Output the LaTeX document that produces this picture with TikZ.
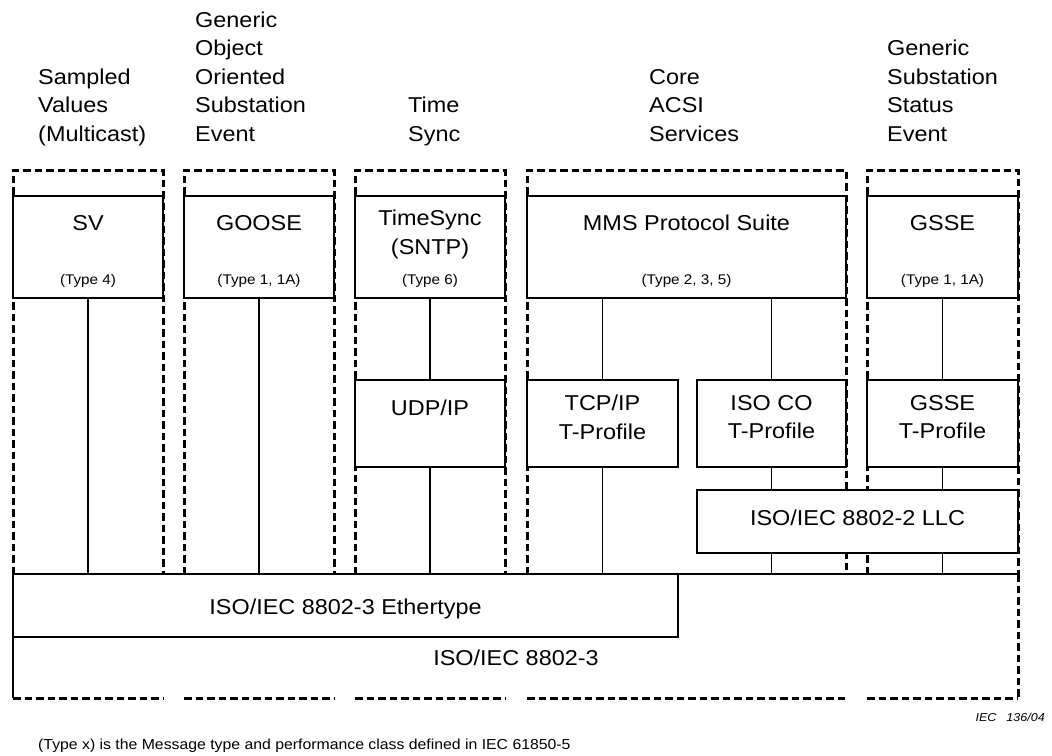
\documentclass[tikz,border=0pt]{standalone}
\usepackage{fontspec}
\setmainfont{Liberation Sans}[FakeStretch=1.09]
\usetikzlibrary{positioning}

\begin{document}
\begin{tikzpicture}[x=1pt, y=-1pt,
    hdr/.style={font=\fontsize{21.5}{28.5}\selectfont, align=left, inner sep=0pt,
                anchor=south west, execute at end node=\strut},
    txt/.style={font=\fontsize{21.5}{28.5}\selectfont, align=center, inner sep=0pt, anchor=base},
    tall/.style={txt, anchor=north, execute at begin node=\strut},
    typ/.style={font=\fontsize{14}{17}\selectfont, inner sep=0pt, anchor=base},
    blk/.style={draw, fill=white, line width=1.7pt, inner sep=0pt, outer sep=0pt},
    col/.style={line width=3pt, dash pattern=on 7.5pt off 4pt},
    link/.style={line width=1.7pt}
]
\useasboundingbox (0,0) rectangle (1052,755);

% headings over the columns
\node[hdr] (sv-h) at (38,150) {Sampled\\Values\\(Multicast)};
\node[hdr] (goose-h) at (195,150) {Generic\\Object\\Oriented\\Substation\\Event};
\node[hdr] (tsync-h) at (408,150) {Time\\Sync};
\node[hdr] (mms-h) at (649,150) {Core\\ACSI\\Services};
\node[hdr] (gsse-h) at (887,150) {Generic\\Substation\\Status\\Event};

% 8802-3 layer (open at bottom and right)
\node[fill=white, inner sep=0pt, minimum width=1005pt, minimum height=124pt] (base) at (515.5,636) {};

% dashed columns
\foreach \xa/\xb in {13/163, 184/334, 355/505, 527/846, 867/1018} {
    \draw[col] (\xa,574) |- (\xb,170) -- (\xb,574);
    \draw[col] (\xa,698) -- (\xb,698);
}
\draw[col] (1018,574) -- (1018,698);
\draw[link] (base.south west) -- (base.north west) -- (base.north east);

% service blocks
\node[blk, minimum width=150pt, minimum height=102pt] (sv) at (88,247) {};
\node[blk, minimum width=150pt, minimum height=102pt] (goose) at (259,247) {};
\node[blk, minimum width=150pt, minimum height=102pt] (tsync) at (430,247) {};
\node[blk, minimum width=319pt, minimum height=102pt] (mms) at (686.5,247) {};
\node[blk, minimum width=151pt, minimum height=102pt] (gsse) at (942.5,247) {};

% transport blocks
\node[blk, minimum width=150pt, minimum height=87pt] (udp) at (430,423.5) {};
\node[blk, minimum width=151pt, minimum height=87pt] (tcp) at (602.5,423.5) {};
\node[blk, minimum width=149pt, minimum height=87pt] (isoco) at (771.5,423.5) {};
\node[blk, minimum width=151pt, minimum height=87pt] (gssetp) at (942.5,423.5) {};
\node[blk, minimum width=321pt, minimum height=63pt] (llc) at (857.5,521.5) {};
\node[blk, minimum width=665pt, minimum height=63pt] (ether) at (345.5,605.5) {};

% links between the layers
\draw[link] (sv.south) -- (sv.south |- ether.north);
\draw[link] (goose.south) -- (goose.south |- ether.north);
\draw[link] (tsync.south) -- (udp.north);
\draw[link] (udp.south) -- (udp.south |- ether.north);
\draw[link] (tcp.north |- mms.south) -- (tcp.north);
\draw[link] (tcp.south) -- (tcp.south |- ether.north);
\draw[link] (isoco.north |- mms.south) -- (isoco.north);
\draw[link] (isoco.south) -- (isoco.south |- llc.north);
\draw[link] (isoco.south |- llc.south) -- (isoco.south |- base.north);
\draw[link] (gsse.south) -- (gssetp.north);
\draw[link] (gssetp.south) -- (gssetp.south |- llc.north);
\draw[link] (gssetp.south |- llc.south) -- (gssetp.south |- base.north);

% block texts
\node[txt] (sv-t) at (88,230) {SV};
\node[typ] (sv-y) at (88,284) {(Type 4)};
\node[txt] (goose-t) at (259,230) {GOOSE};
\node[typ] (goose-y) at (259,284) {(Type 1, 1A)};
\node[tall] (tsync-t) at (430,210) {TimeSync\\(SNTP)};
\node[typ] (tsync-y) at (430,284) {(Type 6)};
\node[txt] (mms-t) at (686.5,230) {MMS Protocol Suite};
\node[typ] (mms-y) at (686.5,284) {(Type 2, 3, 5)};
\node[txt] (gsse-t) at (942.5,230) {GSSE};
\node[typ] (gsse-y) at (942.5,284) {(Type 1, 1A)};
\node[txt] (udp-t) at (430,415) {UDP/IP};
\node[tall] (tcp-t) at (602.5,395) {TCP/IP\\T-Profile};
\node[tall] (isoco-t) at (771.5,395) {ISO CO\\T-Profile};
\node[tall] (gssetp-t) at (942.5,395) {GSSE\\T-Profile};
\node[txt] (llc-t) at (857.5,525) {ISO/IEC 8802-2 LLC};
\node[txt] (ether-t) at (345.5,614) {ISO/IEC 8802-3 Ethertype};
\node[txt] (base-t) at (516,665) {ISO/IEC 8802-3};

% footer
\node[font=\fontsize{11.5}{13}\selectfont\itshape, anchor=base east, inner sep=0pt] (iec) at (1045,721) {IEC\hspace{10pt}136/04};
\node[font=\fontsize{14.5}{17}\selectfont, anchor=base west, inner sep=0pt] (note) at (38,749)
    {(Type x) is the Message type and performance class defined in IEC 61850-5};
\end{tikzpicture}
\end{document}
